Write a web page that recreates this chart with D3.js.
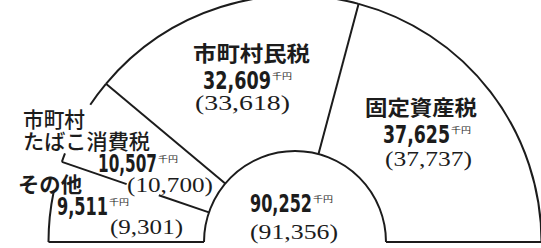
<!DOCTYPE html>
<html>
<head>
<meta charset="utf-8">
<script src="https://cdn.jsdelivr.net/npm/d3@7"></script>
<style>
body { margin: 0; background: #fff; }
svg { display: block; }
</style>
</head>
<body>
<svg width="541" height="248"></svg>
<script>
// values in 千円, previous year in brackets
var categories = ["その他", "市町村たばこ消費税", "市町村民税", "固定資産税"];
var values     = [9511, 10507, 32609, 37625];
var prevValues = [9301, 10700, 33618, 37737];
var total     = 90252;
var prevTotal = 91356;

var cx = 295, cy = 242;
var rOuter = 246.5, rInner = 91;
var ink = "#1c1c1c";

var svg = d3.select("svg");
var g = svg.append("g");

var pie = d3.pie().sort(null)
    .startAngle(-Math.PI / 2)
    .endAngle(Math.PI / 2);
var slices = pie(values);

// which parts of each outer arc are drawn (fraction of the slice), labels sit in the gaps
var outerShown = [
    [[0, 0.62]],
    [[0, 0.1], [0.71, 1]],
    [[0, 1]],
    [[0, 1]]
];

function pt(a, r) {
    return [cx + r * Math.sin(a), cy - r * Math.cos(a)];
}

function arcPath(r, a0, a1) {
    var p = d3.path();
    var s = pt(a0, r);
    p.moveTo(s[0], s[1]);
    p.arc(cx, cy, r, a0 - Math.PI / 2, a1 - Math.PI / 2);
    return p.toString();
}

var lineStyle = function(sel) {
    sel.attr("fill", "none").attr("stroke", ink).attr("stroke-width", 2);
};

// outer arcs
slices.forEach(function(s, i) {
    var span = s.endAngle - s.startAngle;
    outerShown[i].forEach(function(f) {
        g.append("path")
            .attr("d", arcPath(rOuter, s.startAngle + f[0] * span, s.startAngle + f[1] * span))
            .call(lineStyle);
    });
});

// inner half circle
g.append("path")
    .attr("d", arcPath(rInner, -Math.PI / 2, Math.PI / 2))
    .call(lineStyle);

// base line
g.append("path")
    .attr("d", "M" + pt(-Math.PI / 2, rOuter) + "L" + pt(-Math.PI / 2, rInner))
    .call(lineStyle);
g.append("path")
    .attr("d", "M" + pt(Math.PI / 2, rInner) + "L" + pt(Math.PI / 2, rOuter))
    .call(lineStyle);

// radial dividers, the first one broken for the (10,700) label
var dividerGaps = [[144, 178], null, null];
slices.slice(0, -1).forEach(function(s, i) {
    var a = s.endAngle;
    var parts = dividerGaps[i] ? [[rInner, dividerGaps[i][0]], [dividerGaps[i][1], rOuter]] : [[rInner, rOuter]];
    parts.forEach(function(p) {
        g.append("path")
            .attr("d", "M" + pt(a, p[0]) + "L" + pt(a, p[1]))
            .call(lineStyle);
    });
});

// labels
var fmt = d3.format(",");
var cjk = "'Noto Sans CJK JP', sans-serif";
var numFont = "'Liberation Sans Narrow', 'DejaVu Sans', sans-serif";
var parFont = "'Liberation Serif', 'Noto Sans CJK JP', serif";

function addText(str, x, y, font, size, weight, w) {
    var t = g.append("text")
        .attr("x", x).attr("y", y)
        .attr("font-family", font)
        .attr("font-size", size)
        .attr("font-weight", weight)
        .attr("fill", ink)
        .text(str);
    if (w) t.attr("textLength", w).attr("lengthAdjust", "spacingAndGlyphs");
    return t;
}

function addNumber(v, x, y, w) {
    addText(fmt(v), x, y, numFont, 24.5, "bold", w);
    addText("千円", x + w + 1, y - 10, cjk, 8, "normal", 20);
}

var nameLayout = [
    [{t: "その他", x: 18, y: 192, w: 64, wt: "bold"}],
    [{t: "市町村", x: 23, y: 127, w: 62, wt: "500"},
     {t: "たばこ消費税", x: 23, y: 149, w: 127, wt: "500"}],
    [{t: "市町村民税", x: 193, y: 61, w: 117, wt: "bold"}],
    [{t: "固定資産税", x: 365, y: 115, w: 112, wt: "bold"}]
];
var numLayout  = [[57, 215, 51], [98, 172, 59], [203, 89, 68], [383, 143, 67]];
var prevLayout = [[110, 234, 73], [127, 192, 86], [195, 110, 95], [385, 166, 87]];

categories.forEach(function(c, i) {
    nameLayout[i].forEach(function(n) {
        addText(n.t, n.x, n.y, cjk, 21, n.wt, n.w);
    });
    addNumber(values[i], numLayout[i][0], numLayout[i][1], numLayout[i][2]);
    addText("(" + fmt(prevValues[i]) + ")", prevLayout[i][0], prevLayout[i][1], parFont, 21, "normal", prevLayout[i][2]);
});

addNumber(total, 250, 212, 62);
addText("(" + fmt(prevTotal) + ")", 250, 239, parFont, 21, "normal", 88);
</script>
</body>
</html>
